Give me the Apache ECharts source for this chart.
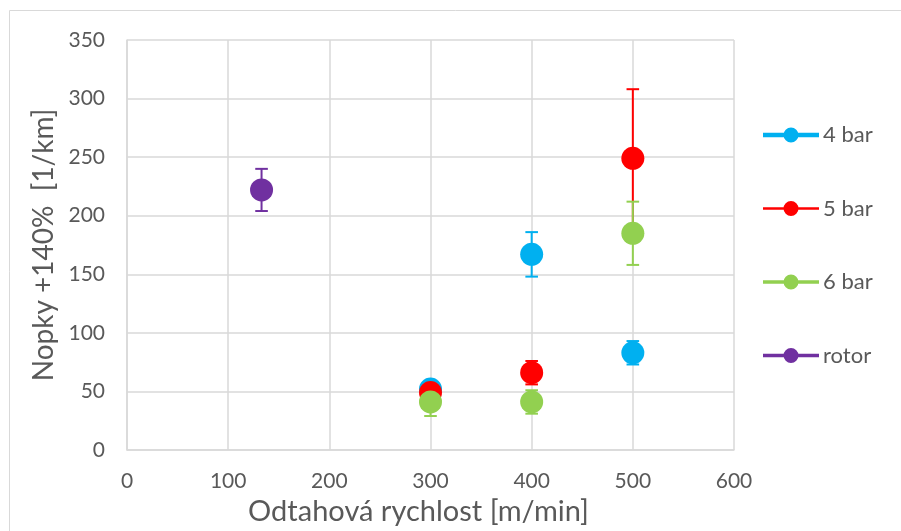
<!DOCTYPE html>
<html>
<head>
<meta charset="utf-8">
<script src="https://cdn.jsdelivr.net/npm/echarts@6/dist/echarts.min.js"></script>
<style>
  html, body { margin: 0; padding: 0; background: #fff; }
  #graf { width: 901px; height: 531px; }
</style>
</head>
<body>
<div id="graf"></div>
<script>
// data: x = odtahová rychlost, y = nopky, e = chyba (+/-)
var names = ['4 bar', '5 bar', '6 bar', 'rotor'];
var colors = ['#00B0F0', '#FF0000', '#92D050', '#7030A0'];

var x4 = [300, 400, 500];
var y4 = [52, 167, 83];
var e4 = [4, 19, 10];

var x5 = [300, 400, 500];
var y5 = [49, 66, 249];
var e5 = [3, 10, 59];

var x6 = [300, 400, 500];
var y6 = [41, 41, 185];
var e6 = [12, 10, 27];

var xRotor = [133];
var yRotor = [222];
var eRotor = [18];

var legendLineWidth = [4.5, 2.5, 3.5, 3.5];

var chartDom = document.getElementById('graf');
var myChart = echarts.init(chartDom);

var groups = [[x4, y4, e4], [x5, y5, e5], [x6, y6, e6], [xRotor, yRotor, eRotor]];

// legend icon = line + circle, 56 x 15
function legendIcon(w) {
  var a = 7.5 - w / 2, b = 7.5 + w / 2;
  return 'path://M0,' + a + 'H56V' + b + 'H0Z M20.5,7.5A7.5,7.5 0 1 1 35.5,7.5A7.5,7.5 0 1 1 20.5,7.5Z';
}

// error bars
function renderErr(params, api) {
  var x = api.value(0), y = api.value(1), e = api.value(2);
  var hi = api.coord([x, y + e]);
  var lo = api.coord([x, y - e]);
  var w = 6.3;
  var st = { stroke: api.visual('color'), lineWidth: 2 };
  return {
    type: 'group',
    children: [
      { type: 'line', shape: { x1: hi[0], y1: hi[1], x2: lo[0], y2: lo[1] }, style: st },
      { type: 'line', shape: { x1: hi[0] - w, y1: hi[1], x2: hi[0] + w, y2: hi[1] }, style: st },
      { type: 'line', shape: { x1: lo[0] - w, y1: lo[1], x2: lo[0] + w, y2: lo[1] }, style: st }
    ]
  };
}

var series = [];
groups.forEach(function (g, i) {
  var pts = g[0].map(function (v, k) { return [v, g[1][k], g[2][k]]; });
  series.push({
    name: names[i],
    type: 'scatter',
    symbolSize: 23,
    itemStyle: { color: colors[i], opacity: 1 },
    data: pts.map(function (p) { return [p[0], p[1]]; })
  });
  series.push({
    name: names[i],
    type: 'custom',
    renderItem: renderErr,
    itemStyle: { color: colors[i] },
    encode: { x: 0, y: 1 },
    data: pts
  });
});

var txt = '#595959';
var font = 'Lato, "Open Sans", sans-serif';

option = {
  animation: false,
  textStyle: { fontFamily: font },
  graphic: [{
    type: 'rect',
    shape: { x: 9.5, y: 10.5, width: 900, height: 530 },
    style: { fill: 'none', stroke: '#d9d9d9', lineWidth: 1 },
    silent: true
  }],
  grid: { left: 127, right: 167, top: 40, bottom: 80 },
  legend: {
    orient: 'vertical',
    left: 763,
    top: 124,
    padding: 0,
    itemWidth: 56,
    itemHeight: 15,
    itemGap: 51.5,
    textStyle: { color: txt, fontSize: 22, fontFamily: font, padding: [0, 0, 0, -1] },
    data: names.map(function (n, i) {
      return { name: n, icon: legendIcon(legendLineWidth[i]) };
    })
  },
  xAxis: {
    type: 'value',
    min: 0,
    max: 600,
    interval: 100,
    name: 'Odtahová rychlost [m/min]',
    nameLocation: 'middle',
    nameGap: 47,
    nameTextStyle: { color: txt, fontSize: 29, fontFamily: font, padding: [0, 24, 0, 0] },
    axisLine: { show: true, lineStyle: { color: '#d9d9d9', width: 1.5 } },
    axisTick: { show: false },
    axisLabel: { color: txt, fontSize: 21, margin: 21, fontFamily: font },
    splitLine: { show: true, lineStyle: { color: '#d9d9d9', width: 1.5 } }
  },
  yAxis: {
    type: 'value',
    min: 0,
    max: 350,
    interval: 50,
    name: 'Nopky +140%  [1/km]',
    nameLocation: 'middle',
    nameGap: 68,
    nameTextStyle: { color: txt, fontSize: 28, fontFamily: font },
    axisLine: { show: true, lineStyle: { color: '#d9d9d9', width: 1.5 } },
    axisTick: { show: false },
    axisLabel: { color: txt, fontSize: 21, margin: 22, fontFamily: font },
    splitLine: { show: true, lineStyle: { color: '#d9d9d9', width: 1.5 } }
  },
  series: series
};

myChart.setOption(option);

window.addEventListener('resize', function () {
  myChart.resize();
});
</script>
</body>
</html>
